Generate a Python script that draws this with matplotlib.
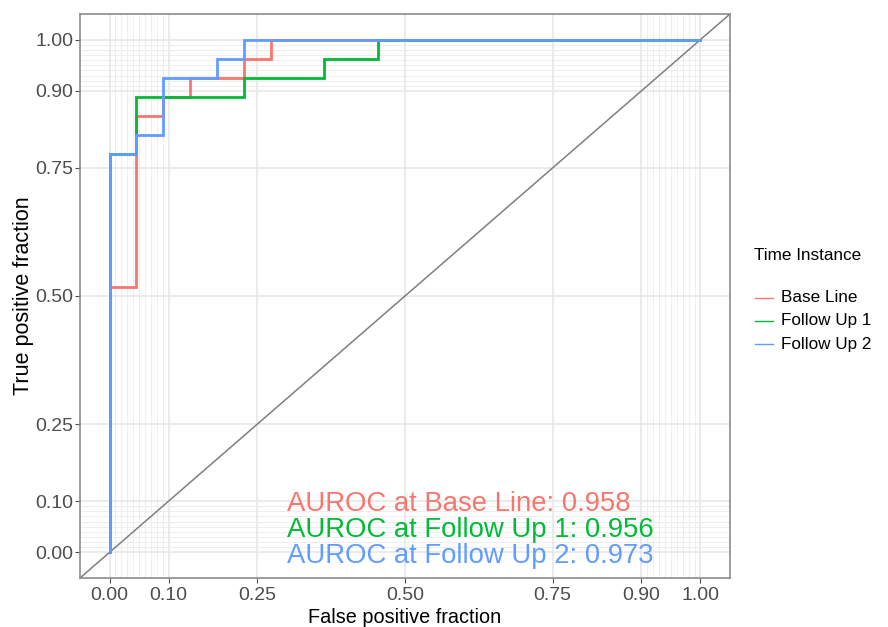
import matplotlib
matplotlib.use("Agg")
import matplotlib.pyplot as plt
from matplotlib.lines import Line2D
import numpy as np

plt.rcParams['font.family'] = ['Liberation Sans', 'DejaVu Sans']

# ROC step vertices (counts of negatives / positives)
n_neg = 22
n_pos = 27
series = ["Base Line", "Follow Up 1", "Follow Up 2"]
colors = ["#F8766D", "#00BA38", "#619CFF"]
fp_base = [0, 0, 1, 1, 2, 2, 3, 3, 5, 5, 6, 6, 22]
tp_base = [0, 14, 14, 23, 23, 24, 24, 25, 25, 26, 26, 27, 27]
fp_fu1 = [0, 0, 1, 1, 5, 5, 8, 8, 10, 10, 22]
tp_fu1 = [0, 21, 21, 24, 24, 25, 25, 26, 26, 27, 27]
fp_fu2 = [0, 0, 1, 1, 2, 2, 4, 4, 5, 5, 22]
tp_fu2 = [0, 21, 21, 22, 22, 25, 25, 26, 26, 27, 27]
auroc = [0.958, 0.956, 0.973]

major_breaks = [0.0, 0.1, 0.25, 0.5, 0.75, 0.9, 1.0]
tick_labels = ["0.00", "0.10", "0.25", "0.50", "0.75", "0.90", "1.00"]
minor_breaks = [0.01, 0.02, 0.03, 0.04, 0.05, 0.06, 0.07, 0.08, 0.09,
                0.91, 0.92, 0.93, 0.94, 0.95, 0.96, 0.97, 0.98, 0.99]

W, H = 888, 627
fig = plt.figure(figsize=(W / 100, H / 100), dpi=100)
ax = fig.add_axes([80/W, 1-578/H, 650/W, 564/H])
ax.set_xlim(-0.05, 1.05)
ax.set_ylim(-0.05, 1.05)

# grid
for v in minor_breaks:
    ax.axvline(v, color="#EBEBEB", lw=0.6, zorder=0)
    ax.axhline(v, color="#EBEBEB", lw=0.6, zorder=0)
for v in major_breaks:
    ax.axvline(v, color="#E6E6E6", lw=1.1, zorder=0)
    ax.axhline(v, color="#E6E6E6", lw=1.1, zorder=0)

ax.axline((0, 0), (1, 1), color="#7F7F7F", lw=1.1, zorder=1)

data = [(fp_base, tp_base), (fp_fu1, tp_fu1), (fp_fu2, tp_fu2)]
for (fp, tp), c, name in zip(data, colors, series):
    ax.plot(np.array(fp) / n_neg, np.array(tp) / n_pos, color=c, lw=2.0,
            solid_joinstyle="miter", zorder=2)

ax.set_xticks(major_breaks)
ax.set_xticklabels(tick_labels)
ax.set_yticks(major_breaks)
ax.set_yticklabels(tick_labels)
ax.tick_params(axis="both", labelsize=14, colors="#4D4D4D", length=3.5, width=0.8,
               labelcolor="#4D4D4D")
ax.tick_params(axis="y", pad=1.5)
ax.tick_params(axis="x", pad=3)
for s in ax.spines.values():
    s.set_color("#8C8C8C")
    s.set_linewidth(1.2)

ax.set_xlabel("False positive fraction", fontsize=14.3, color="black", labelpad=3)
ax.set_ylabel("True positive fraction", fontsize=15.5, color="black")
ax.yaxis.set_label_coords(-0.0708, 0.5)

ybase = [0.0805, 0.0304, -0.0203]
for name, a, c, yt in zip(series, auroc, colors, ybase):
    ax.text(0.30, yt, f"AUROC at {name}: {a:.3f}", color=c, fontsize=19.8,
            ha="left", va="baseline", zorder=3)

# legend (manually laid out to match ggplot guide)
fig.text(754/W, 1-255/H, "Time Instance", fontsize=12.3, color="black",
         ha="left", va="center")
key_y = [298, 321, 344]
for name, c, ky in zip(series, colors, key_y):
    fig.add_artist(Line2D([755/W, 773/W], [1-ky/H, 1-ky/H], color=c, lw=1.0,
                          transform=fig.transFigure))
    fig.text(781/W, 1-ky/H, name, fontsize=12.3, color="black",
             ha="left", va="center")

fig.savefig("out.png", dpi=100)
